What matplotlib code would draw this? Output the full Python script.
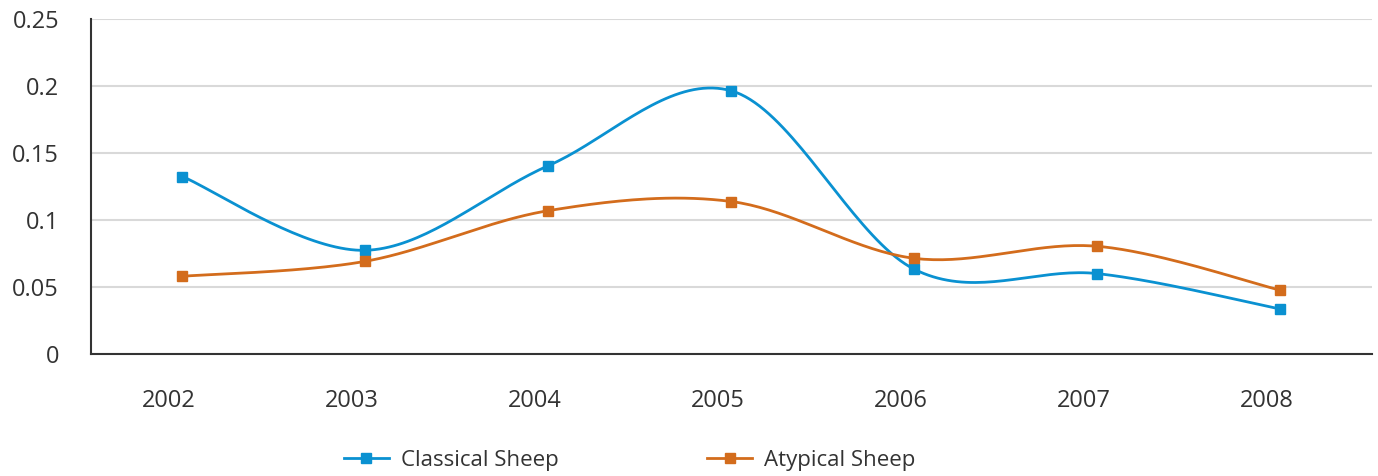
import numpy as np
import matplotlib
matplotlib.use("Agg")
import matplotlib.pyplot as plt
import matplotlib.transforms as mtransforms

years = ["2002", "2003", "2004", "2005", "2006", "2007", "2008"]
classical = [0.1324, 0.0774, 0.1406, 0.1964, 0.0632, 0.0600, 0.0335]
atypical = [0.0580, 0.0692, 0.1070, 0.1138, 0.0714, 0.0804, 0.0476]
series_names = ["Classical Sheep", "Atypical Sheep"]
yticks = [0, 0.05, 0.1, 0.15, 0.2, 0.25]
ytick_labels = ["0", "0.05", "0.1", "0.15", "0.2", "0.25"]

blue = "#0A91D1"
orange = "#D36C1C"

plt.rcParams['font.family'] = ['Open Sans', 'DejaVu Sans']

fig = plt.figure(figsize=(13.78, 4.76), dpi=100)
ax = fig.add_axes([0.066, 0.2563, 0.9296, 0.7037])

x = np.arange(len(years))
# pixel scales for smoothing in display-like space
sx, sy = 183.3, 1344.0


def smooth(xs, ys, n=40):
    P = np.column_stack([np.asarray(xs, float) * sx, np.asarray(ys, float) * sy])
    out = [P[0]]
    m = len(P)
    for i in range(m - 1):
        p0 = P[i - 1] if i > 0 else P[i]
        p1 = P[i]
        p2 = P[i + 1]
        p3 = P[i + 2] if i + 2 < m else P[i + 1]
        c1 = p1 + (p2 - p0) / 6.0
        c2 = p2 - (p3 - p1) / 6.0
        t = np.linspace(0, 1, n)[1:, None]
        seg = ((1 - t) ** 3) * p1 + 3 * ((1 - t) ** 2) * t * c1 + 3 * (1 - t) * t ** 2 * c2 + t ** 3 * p2
        out.extend(seg)
    out = np.array(out)
    return out[:, 0] / sx, out[:, 1] / sy


for vals, col, name in [(classical, blue, series_names[0]), (atypical, orange, series_names[1])]:
    xs, ys = smooth(x, vals)
    ax.plot(xs, ys, color=col, lw=2.0, zorder=3)
    ax.plot(x, vals, linestyle="none", marker="s", markersize=7, color=col, zorder=4)
    ax.plot([], [], color=col, lw=2.0, marker="s", markersize=7, label=name)

ax.set_xlim(-0.5, len(years) - 0.5)
ax.set_ylim(0, 0.25)
ax.set_xticks(x)
ax.set_xticklabels(years)
ax.set_yticks(yticks)
ax.set_yticklabels(ytick_labels)
ax.yaxis.grid(True, color="#d9d9d9", lw=1.5)
ax.set_axisbelow(True)
for s in ["top", "right"]:
    ax.spines[s].set_visible(False)
for s in ["left", "bottom"]:
    ax.spines[s].set_color("#333333")
    ax.spines[s].set_linewidth(1.5)
ax.tick_params(axis="x", length=0, pad=25, labelsize=17, labelcolor="#333333")
ax.tick_params(axis="y", length=0, pad=23, labelsize=17, labelcolor="#333333")

offset = mtransforms.ScaledTranslation(-0.14, 0, fig.dpi_scale_trans)
for lbl in ax.get_xticklabels():
    lbl.set_transform(lbl.get_transform() + offset)

leg = fig.legend(loc="center", bbox_to_anchor=(0.457, 0.032), ncol=2, frameon=False,
                 fontsize=16, handlelength=2.0, handletextpad=0.55, columnspacing=6.7,
                 labelcolor="#333333")

fig.savefig("out.png", dpi=100)
